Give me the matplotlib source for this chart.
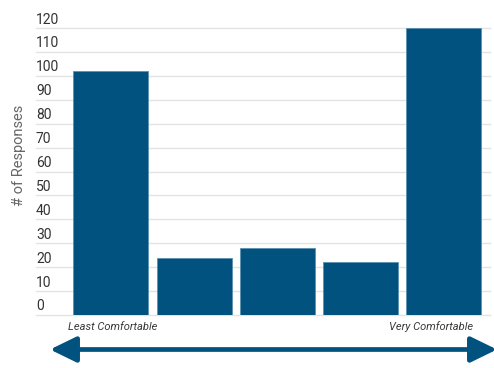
import matplotlib
matplotlib.use("Agg")
import matplotlib.pyplot as plt
from matplotlib.patches import FancyArrowPatch, ArrowStyle
from matplotlib.transforms import blended_transform_factory, offset_copy

plt.rcParams["font.family"] = ["Roboto", "DejaVu Sans"]

# comfort rating 1 (least) .. 5 (very)
ratings = [1, 2, 3, 4, 5]
responses = [102, 24, 28, 22, 120]
y_ticks = list(range(0, 121, 10))
end_labels = {1: "Least Comfortable", 5: "Very Comfortable"}

bar_color = "#02527f"
grid_color = "#e3e3e3"

fig = plt.figure(figsize=(4.94, 3.68), dpi=100)
ax = fig.add_axes([36 / 494, 1 - 315 / 368, 454 / 494, 287 / 368])

x = [r - 1 for r in ratings]
ax.bar(x, responses, width=0.9, color=bar_color, edgecolor="#5b8fb0",
       linewidth=0.6, zorder=3)

ax.set_xlim(-0.9, 4.555)
ax.set_ylim(0, 120)
ax.set_xticks([])
ax.set_yticks([])
for s in ax.spines.values():
    s.set_visible(False)

for t in y_ticks:
    ax.axhline(t, color=grid_color, linewidth=1.0, zorder=1, clip_on=False)

# y tick labels sit just above their gridline, left aligned
trans = blended_transform_factory(ax.transAxes, ax.transData)
trans = offset_copy(trans, fig=fig, x=0, y=4.5, units="dots")
for t in y_ticks:
    ax.text(0.0, t, str(t), transform=trans, ha="left", va="baseline",
            fontsize=10, color="#333333")

fig.text(19 / 494, 1 - 155 / 368, "# of Responses", rotation=90,
         ha="center", va="center", fontsize=10.5, color="#666666")

# end labels under the first and last bar
lab_trans = blended_transform_factory(ax.transData, fig.transFigure)
ax.text(x[0] + 0.02, 1 - 327 / 368, end_labels[1], transform=lab_trans,
        ha="center", va="center", fontsize=8, style="italic", color="#3a3a3a")
ax.text(x[4] - 0.15, 1 - 327 / 368, end_labels[5], transform=lab_trans,
        ha="center", va="center", fontsize=8, style="italic", color="#3a3a3a")

arrow = FancyArrowPatch(
    (50 / 494, 1 - 349.5 / 368), (497 / 494, 1 - 349.5 / 368),
    transform=fig.transFigure,
    arrowstyle=ArrowStyle("<|-|>", head_length=16, head_width=7.8),
    mutation_scale=1, color=bar_color, linewidth=3.4,
    shrinkA=0, shrinkB=0,
)
fig.patches.append(arrow)

fig.savefig("out.png", dpi=100)
